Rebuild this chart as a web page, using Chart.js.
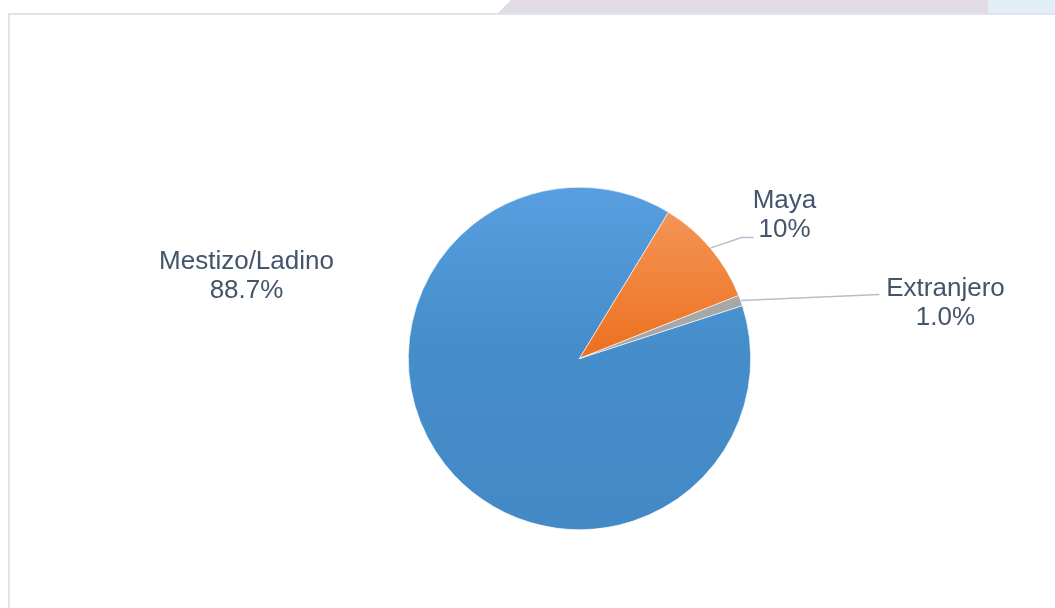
<!DOCTYPE html>
<html lang="es">
<head>
  <meta charset="UTF-8" />
  <title>Población por pueblo</title>
  <script src="https://cdn.jsdelivr.net/npm/chart.js"></script>
  <style>
    body {
      margin: 0;
      width: 1055px;
      height: 608px;
      overflow: hidden;
      background: #ffffff;
      font-family: 'Liberation Sans', Arial, sans-serif;
      position: relative;
    }
    /* strip of the slide behind the chart */
    .band-pink {
      position: absolute;
      left: 497px; top: 0;
      width: 491px; height: 14px;
      background: #e3dbe3;
      clip-path: polygon(14px 0, 100% 0, 100% 100%, 0 100%);
    }
    .band-cyan {
      position: absolute;
      left: 988px; top: 0;
      width: 67px; height: 14px;
      background: #e2eef5;
    }
    .frame {
      position: absolute;
      left: 8px; top: 13px;
      width: 1100px; height: 700px;
      border-left: 2px solid #dfe4ea;
      border-top: 2px solid #dfe4ea;
      background: #ffffff;
    }
    #wrap {
      position: absolute;
      left: 0; top: 0;
      width: 1055px; height: 608px;
    }
  </style>
</head>
<body>
  <div class="band-pink"></div>
  <div class="band-cyan"></div>
  <div class="frame"></div>
  <div id="wrap"><canvas id="pie"></canvas></div>

  <script>
    // data
    const categories = ['Mestizo/Ladino', 'Maya', 'Extranjero'];
    const values = [88.7, 10.3, 1.0];
    const valueLabels = ['88.7%', '10%', '1.0%'];

    // label placement, relative to pie centre (px)
    const labelPos = [
      { x: -333, y: -90, leader: null },
      { x: 205, y: -151, leader: [[162, -121], [174, -121]] },
      { x: 366, y: -63, leader: [[300, -64]] }
    ];

    const textColor = '#44546a';
    const leaderColor = '#b3bfcd';

    function sliceFill(ctx) {
      const chart = ctx.chart;
      const area = chart.chartArea;
      if (!area) return null;
      const g = chart.ctx.createLinearGradient(0, area.top, 0, area.bottom);
      if (ctx.dataIndex === 0) {
        g.addColorStop(0, '#579fe0');
        g.addColorStop(0.45, '#468dcb');
        g.addColorStop(1, '#4389c6');
      } else if (ctx.dataIndex === 1) {
        g.addColorStop(0, '#f39a62');
        g.addColorStop(0.2, '#f28a45');
        g.addColorStop(0.5, '#ec6f1f');
        g.addColorStop(1, '#e8661a');
      } else {
        g.addColorStop(0, '#a8a8a8');
        g.addColorStop(1, '#a5a5a5');
      }
      return g;
    }

    const outerLabels = {
      id: 'outerLabels',
      afterDatasetsDraw(chart) {
        const ctx = chart.ctx;
        const arcs = chart.getDatasetMeta(0).data;
        ctx.save();
        arcs.forEach((arc, i) => {
          const cx = arc.x, cy = arc.y, r = arc.outerRadius;
          const mid = (arc.startAngle + arc.endAngle) / 2;
          const p = labelPos[i];
          if (p.leader) {
            ctx.strokeStyle = leaderColor;
            ctx.lineWidth = 1.5;
            ctx.beginPath();
            ctx.moveTo(cx + Math.cos(mid) * r, cy + Math.sin(mid) * r);
            p.leader.forEach(pt => ctx.lineTo(cx + pt[0], cy + pt[1]));
            ctx.stroke();
          }
          ctx.fillStyle = textColor;
          ctx.font = '26px "Liberation Sans", Arial, sans-serif';
          ctx.textAlign = 'center';
          ctx.textBaseline = 'alphabetic';
          ctx.fillText(categories[i], cx + p.x, cy + p.y);
          ctx.fillText(valueLabels[i], cx + p.x, cy + p.y + 29);
        });
        ctx.restore();
      }
    };

    new Chart(document.getElementById('pie'), {
      type: 'pie',
      data: {
        labels: categories,
        datasets: [{
          data: values,
          backgroundColor: sliceFill,
          borderColor: '#ffffff',
          borderWidth: 0.6
        }]
      },
      options: {
        responsive: true,
        maintainAspectRatio: false,
        animation: false,
        rotation: 72,
        layout: {
          padding: { top: 187, bottom: 78, left: 300, right: 196 }
        },
        plugins: {
          legend: { display: false },
          tooltip: { enabled: false }
        }
      },
      plugins: [outerLabels]
    });
  </script>
</body>
</html>
